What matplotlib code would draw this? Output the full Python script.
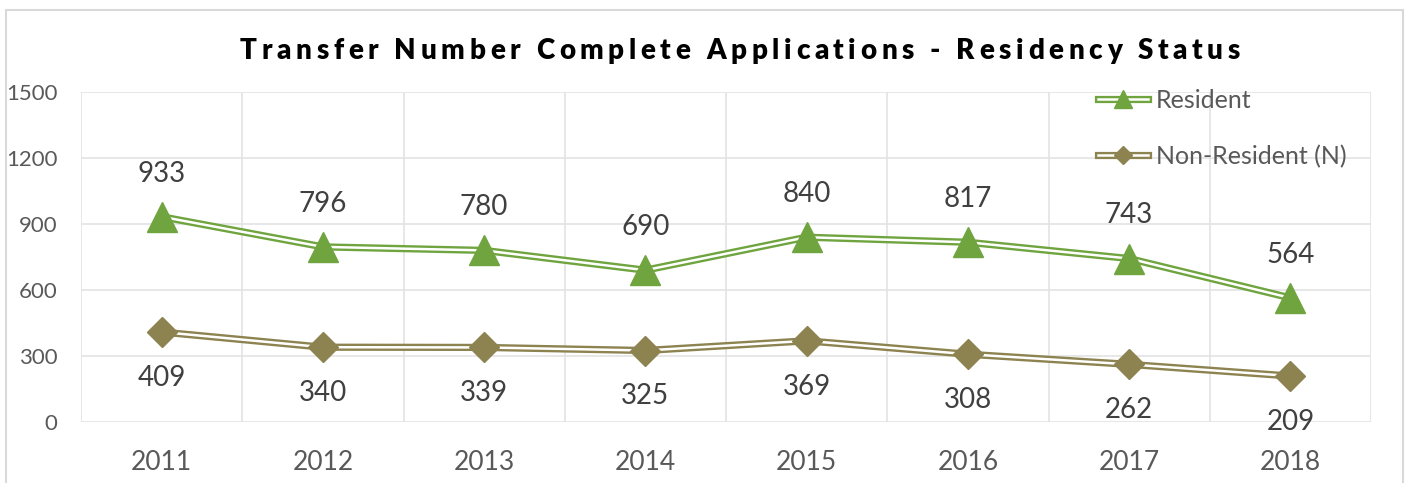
import matplotlib
matplotlib.use("Agg")
import matplotlib.pyplot as plt
from matplotlib.patches import Rectangle
from matplotlib.legend_handler import HandlerTuple
from matplotlib.lines import Line2D

years = ["2011", "2012", "2013", "2014", "2015", "2016", "2017", "2018"]
resident = [933, 796, 780, 690, 840, 817, 743, 564]
non_resident = [409, 340, 339, 325, 369, 308, 262, 209]
yticks = [0, 300, 600, 900, 1200, 1500]
title = "Transfer Number Complete Applications - Residency Status"
labels = ["Resident", "Non-Resident (N)"]

GREEN = "#6FA43F"
OLIVE = "#8D8350"
GRID = "#E3E3E3"
TXT = "#404040"
TICK = "#595959"
FONT = "Lato"

plt.rcParams['font.family'] = [FONT, 'DejaVu Sans']

fig = plt.figure(figsize=(14.12, 4.83), dpi=100)
fig.patch.set_facecolor("white")
# chart frame
fig.patches.append(Rectangle((6/1412, -0.05), (1403-6)/1412, 1.05 - 10/483,
                             transform=fig.transFigure, fill=False,
                             edgecolor="#D9D9D9", lw=1.5))

ax = fig.add_axes([81/1412, 61/483, (1371-81)/1412, 330/483])
x = list(range(len(years)))
ax.set_xlim(-0.5, len(years) - 0.5)
ax.set_ylim(0, 1500)
for s in ax.spines.values():
    s.set_visible(False)
for yt in yticks:
    ax.axhline(yt, color=GRID, lw=1.2, zorder=0)
for k in range(len(years) + 1):
    ax.axvline(k - 0.5, color=GRID, lw=1.2, zorder=0)
ax.set_yticks(yticks)
ax.set_yticklabels([str(v) for v in yticks], fontsize=16, color=TICK)
ax.set_xticks(x)
ax.set_xticklabels(years, fontsize=19, color=TICK)
ax.tick_params(length=0)
ax.tick_params(axis='y', pad=17)
ax.tick_params(axis='x', pad=20)

OUT_LW = 5.2
IN_LW = 1.8
MS_TRI = 21
MS_DIA = 15

handles = []
for vals, col, mk, ms, off, lab in [
        (resident, GREEN, "^", MS_TRI, 31, labels[0]),
        (non_resident, OLIVE, "D", MS_DIA, -33, labels[1])]:
    ax.plot(x, vals, color=col, lw=OUT_LW, zorder=3, solid_joinstyle='miter')
    ax.plot(x, vals, color="white", lw=IN_LW, zorder=4, solid_joinstyle='miter')
    ax.plot(x, vals, ls="none", marker=mk, ms=ms, color=col, mec=col, zorder=5)
    for xi, v in zip(x, vals):
        ax.annotate(str(v), (xi, v), xytext=(0, off), textcoords="offset points",
                    ha="center", va="center", fontsize=20, color=TXT)
    h = (Line2D([], [], color=col, lw=OUT_LW),
         Line2D([], [], color="white", lw=IN_LW),
         Line2D([], [], ls="none", marker=mk, ms=ms * 0.6, color=col))
    handles.append(h)

leg = fig.legend(handles, labels, handler_map={tuple: HandlerTuple(ndivide=1)},
                 loc="upper left", bbox_to_anchor=(1098/1412, 1 - 89/483),
                 frameon=False, fontsize=18, labelcolor=TICK,
                 handlelength=2.0, handletextpad=0.3, labelspacing=1.3,
                 borderaxespad=0, borderpad=0)

# title with letter spacing, each character placed individually
fig.canvas.draw()
renderer = fig.canvas.get_renderer()
tprops = dict(fontsize=20, fontweight="heavy", color="black", family=FONT)
widths = []
for ch in title:
    t = fig.text(0, 0, ch if ch != " " else "a a", **tprops)
    w = t.get_window_extent(renderer).width
    if ch == " ":
        t2 = fig.text(0, 0, "aa", **tprops)
        w = w - t2.get_window_extent(renderer).width
        t2.remove()
    widths.append(w)
    t.remove()
target_left, target_right = 240, 1240
natural = sum(widths)
spacing = (target_right - target_left - natural) / (len(title) - 1)
xpos = target_left
for ch, w in zip(title, widths):
    if ch != " ":
        fig.text(xpos / 1412, 1 - 51 / 483, ch, ha="left", va="center", **tprops)
    xpos += w + spacing

fig.savefig("out.png", dpi=100, facecolor="white")
